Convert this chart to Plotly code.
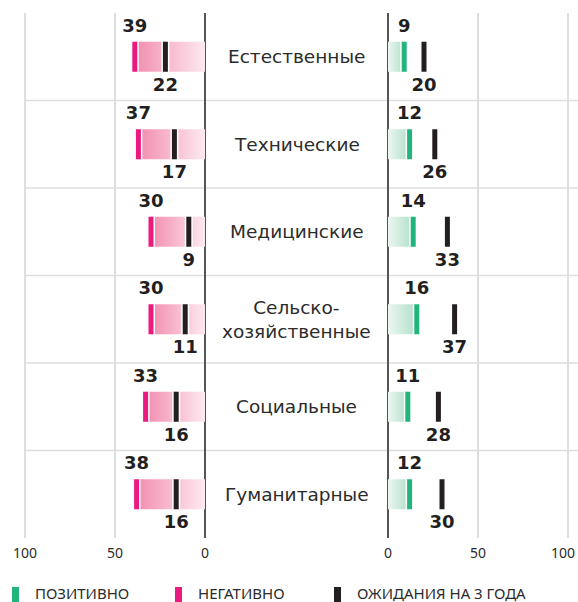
import plotly.graph_objects as go

# Fields of study and survey shares (%)
categories = ["Естественные", "Технические", "Медицинские",
              "Сельско-<br>хозяйственные", "Социальные", "Гуманитарные"]
negative = [39, 37, 30, 30, 33, 38]          # negative assessment
expect_neg = [22, 17, 9, 11, 16, 16]         # 3-year expectation (left panel)
positive = [9, 12, 14, 16, 11, 12]           # positive assessment
expect_pos = [20, 26, 33, 37, 28, 30]        # 3-year expectation (right panel)

axis_ticks = [0, 50, 100]
legend_items = ["ПОЗИТИВНО", "НЕГАТИВНО", "ОЖИДАНИЯ НА 3 ГОДА"]

PINK = "#ea1a7f"
GREEN = "#21b57b"
BLACK = "#231f20"
TEXT = "#2b2b2b"
FONT = "Noto Sans"
WIDE = "DejaVu Sans"

W, H = 578, 602
M_TOP, M_BOT = 13, 64
HALF = 0.171            # half bar thickness in category units
LABEL_OFF = 0.335       # value label offset from row centre

fig = go.Figure()
rows = list(range(len(categories)))


def add_bar(value, row, axis, scale):
    fig.add_trace(go.Scatter(
        x=[0, value, value, 0, 0],
        y=[row - HALF, row - HALF, row + HALF, row + HALF, row - HALF],
        xaxis=axis, yaxis="y", mode="lines", fill="toself",
        line=dict(width=0),
        fillgradient=dict(type="horizontal", colorscale=scale),
        hoverinfo="skip", showlegend=False))


def add_ticks(values, axis, color):
    xs, ys = [], []
    for r, v in zip(rows, values):
        xs += [v, v, None]
        ys += [r - HALF, r + HALF, None]
    fig.add_trace(go.Scatter(x=xs, y=ys, xaxis=axis, yaxis="y", mode="lines",
                             line=dict(color="white", width=8),
                             hoverinfo="skip", showlegend=False))
    fig.add_trace(go.Scatter(x=xs, y=ys, xaxis=axis, yaxis="y", mode="lines",
                             line=dict(color=color, width=5),
                             hoverinfo="skip", showlegend=False))


def add_labels(values, axis, offset):
    fig.add_trace(go.Scatter(
        x=values, y=[r + offset for r in rows], xaxis=axis, yaxis="y",
        mode="text", text=[str(v) for v in values], textposition="middle center",
        textfont=dict(family=WIDE, size=18, color=BLACK, weight="bold"),
        hoverinfo="skip", showlegend=False, cliponaxis=False))


# gradient bars: pale at zero, deeper towards the value
for r in rows:
    add_bar(negative[r], r, "x", [[0, "#f28db0"], [1, "#fde9f0"]])
    add_bar(positive[r], r, "x2", [[0, "#ecf7f0"], [1, "#b0decb"]])

# value markers
add_ticks(negative, "x", PINK)
add_ticks(expect_neg, "x", BLACK)
add_ticks(positive, "x2", GREEN)
add_ticks(expect_pos, "x2", BLACK)

# value labels
add_labels(negative, "x", -LABEL_OFF)
add_labels(expect_neg, "x", LABEL_OFF)
add_labels(positive, "x2", -LABEL_OFF)
add_labels(expect_pos, "x2", LABEL_OFF)

PX = 1.8  # pixels per percent
left_d = [(25 - PX) / W, (205 + PX) / W]
right_d = [(388 - PX) / W, (568 + PX) / W]

xaxis_common = dict(
    tickvals=axis_ticks, showticklabels=False,
    showgrid=True, gridcolor="#dedede", gridwidth=1.5,
    zeroline=True, zerolinecolor="#555555", zerolinewidth=1.5,
    showline=False, ticks="", automargin=False,
    fixedrange=True,
)

fig.update_layout(
    width=W, height=H,
    margin=dict(l=0, r=0, t=M_TOP, b=M_BOT, autoexpand=False),
    paper_bgcolor="white", plot_bgcolor="white",
    xaxis=dict(domain=left_d, range=[101, -1], **xaxis_common),
    xaxis2=dict(domain=right_d, range=[-1, 101], anchor="y", **xaxis_common),
    yaxis=dict(range=[len(categories) - 0.5, -0.5], showgrid=False,
               zeroline=False, showticklabels=False, fixedrange=True,
               automargin=False),
    showlegend=False,
)

plot_h = H - M_TOP - M_BOT
def py(pix):
    return (H - M_BOT - pix) / plot_h

# axis tick labels; the outer right one is pinned to the page edge
for ax in ("x", "x2"):
    for t in axis_ticks:
        edge = ax == "x2" and t == max(axis_ticks)
        fig.add_annotation(x=(577 / W) if edge else t,
                           xref="paper" if edge else ax,
                           y=py(552), yref="paper",
                           text=str(t), showarrow=False,
                           xanchor="right" if edge else "center",
                           yanchor="middle",
                           font=dict(family=FONT, size=14, color=TEXT))

# row separators
for r in rows[:-1]:
    fig.add_shape(type="line", xref="paper", yref="y",
                  x0=25 / W, x1=1, y0=r + 0.5, y1=r + 0.5,
                  line=dict(color="#dedede", width=1.5), layer="below")

# category names in the central column
for r, name in zip(rows, categories):
    fig.add_annotation(x=296.5 / W, xref="paper", y=r, yref="y",
                       text=name, showarrow=False,
                       font=dict(family=WIDE, size=18.5, color=TEXT),
                       xanchor="center", yanchor="middle")

# legend
legend_colors = [GREEN, PINK, BLACK]
legend_x = [12, 175, 334]
for x0, col, label in zip(legend_x, legend_colors, legend_items):
    fig.add_shape(type="rect", xref="paper", yref="paper",
                  x0=x0 / W, x1=(x0 + 7) / W, y0=py(602), y1=py(587),
                  fillcolor=col, line=dict(width=0))
    fig.add_annotation(x=(x0 + 21) / W, xref="paper", y=py(593), yref="paper",
                       text=label, showarrow=False, xanchor="left",
                       yanchor="middle",
                       font=dict(family=FONT, size=15, color=TEXT))

fig.write_html("out.html")
